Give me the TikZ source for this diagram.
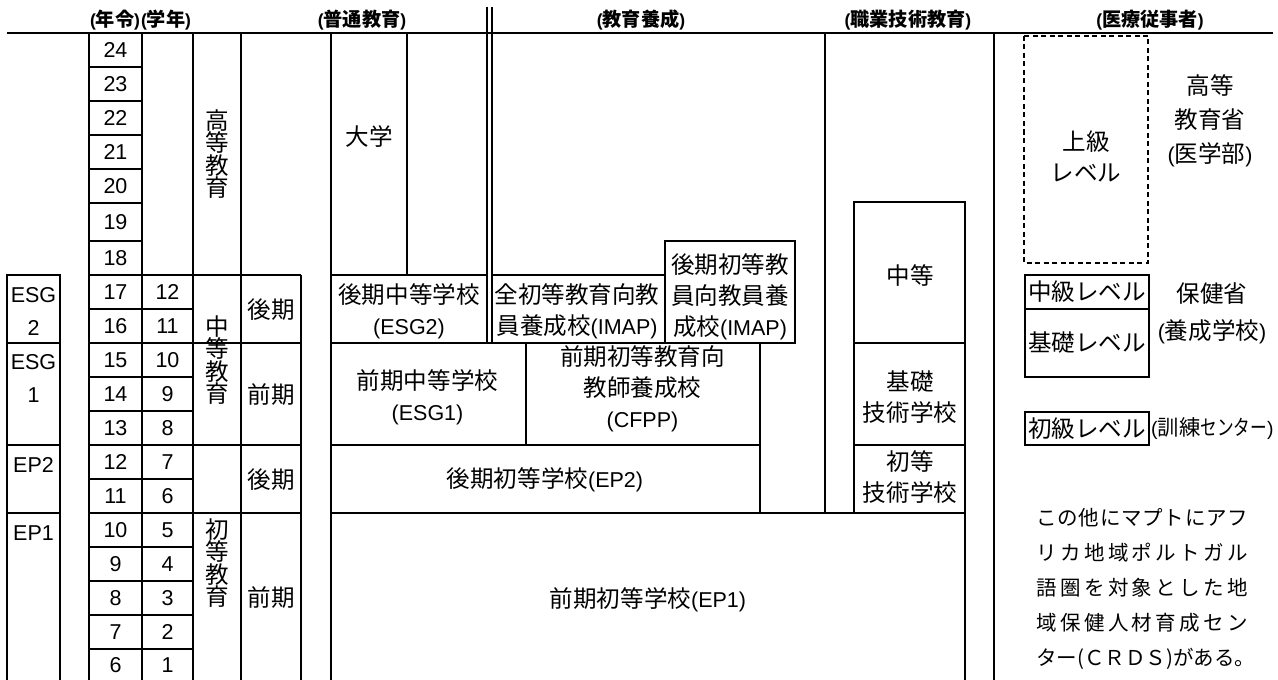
\documentclass[tikz,border=0pt]{standalone}
\usepackage{fontspec}
\setmainfont{Liberation Sans}
\newfontfamily\jp[Scale=1.095]{Noto Sans CJK JP}
\newfontfamily\jpn{Noto Sans CJK JP}
\newcommand\J[1]{{\jp #1}}
\def\sprA#1#2\relax{#1\ifx\relax#2\relax\else\hfill\sprA#2\relax\fi}
\newcommand\spr[1]{\makebox[212bp][s]{\sprA#1\relax}}
\tikzset{
  ln/.style={line width=1.8bp},
  dbl/.style={line width=2bp},
  txt/.style={inner sep=0pt, font=\fontsize{21.5bp}{31bp}\selectfont, align=center},
  vtxt/.style={inner sep=0pt, font=\fontsize{21.5bp}{22.5bp}\selectfont, align=center},
  hdr/.style={inner sep=0pt, font=\fontsize{17.5bp}{20bp}\selectfont\bfseries},
  dashbox/.style={line width=1.6bp, dash pattern=on 5bp off 3.5bp},
}
\begin{document}
\begin{tikzpicture}[x=1bp,y=-1bp]
\useasboundingbox (0,0) rectangle (1278,680);
% headers
\node[hdr] (hAge) at (115,20) {(\J{年令})};
\node[hdr] (hGrade) at (166,20) {(\J{学年})};
\node[hdr] (hGen) at (362,20) {(\J{普通教育})};
\node[hdr] (hTeach) at (641,20) {(\J{教育養成})};
\node[hdr] (hVoc) at (908,20) {(\J{職業技術教育})};
\node[hdr] (hMed) at (1150,20) {(\J{医療従事者})};
\draw[dbl] (7,33) -- (1273,33);
% left column
\draw[ln] (7,275) rectangle (60,343);
\draw[ln] (7,343) rectangle (60,445);
\draw[ln] (7,445) rectangle (60,513);
\draw[ln] (7,680) -- (7,513) -- (60,513) -- (60,680);
\node[txt] (lESGa) at (33.5,295) {ESG};
\node[txt] (lESGb) at (33.5,328) {2};
\node[txt] (lESGc) at (33.5,362) {ESG};
\node[txt] (lESGd) at (33.5,395) {1};
\node[txt] (lEP2) at (33.5,465) {EP2};
\node[txt] (lEP1) at (33.5,533) {EP1};
% age / grade grid
\foreach \x in {89,142,193,241} \draw[ln] (\x,33) -- (\x,680);
\draw[ln] (301,275) -- (301,680);
\foreach \y in {67,101,135,169,203,241} \draw[ln] (89,\y) -- (142,\y);
\foreach \y in {275,309,343,377,411,445,479,513,547,581,615,649} \draw[ln] (89,\y) -- (193,\y);
\foreach \y in {275,343,445,513} \draw[ln] (193,\y) -- (301,\y);
\foreach \a/\yt/\yb in {24/33/67,23/67/101,22/101/135,21/135/169,20/169/203,19/203/241,18/241/275}
  \node[txt] (age\a) at (115.5,{(\yt+\yb)/2}) {\a};
\foreach \a/\g/\yt/\yb in {17/12/275/309,16/11/309/343,15/10/343/377,14/9/377/411,13/8/411/445,12/7/445/479,11/6/479/513,10/5/513/547,9/4/547/581,8/3/581/615,7/2/615/649,6/1/649/682}{
  \node[txt] (age\a) at (115.5,{(\yt+\yb)/2}) {\a};
  \node[txt] (gr\g) at (167.5,{(\yt+\yb)/2}) {\g};
}
\node[vtxt] (vHigh) at (217,154) {\J{高}\\\J{等}\\\J{教}\\\J{育}};
\node[vtxt] (vSec) at (217,360) {\J{中}\\\J{等}\\\J{教}\\\J{育}};
\node[vtxt] (vPri) at (217,563) {\J{初}\\\J{等}\\\J{教}\\\J{育}};
\node[txt] (pSecL) at (271,310) {\J{後期}};
\node[txt] (pSecE) at (271,395) {\J{前期}};
\node[txt] (pPriL) at (271,480) {\J{後期}};
\node[txt] (pPriE) at (271,598) {\J{前期}};
% general education
\draw[ln] (331,33) -- (331,680);
\draw[ln] (407,33) -- (407,275);
\draw[dbl] (486.5,7) -- (486.5,343);
\draw[dbl] (491.5,7) -- (491.5,343);
\draw[ln] (331,275) -- (486.5,275);
\draw[ln] (491.5,275) -- (665,275);
\draw[ln] (665,241) rectangle (795,343);
\draw[ln] (331,343) -- (795,343);
\draw[ln] (526,343) -- (526,445);
\draw[ln] (760,343) -- (760,513);
\draw[ln] (331,445) -- (760,445);
\draw[ln] (331,513) -- (965,513);
\draw[ln] (965,513) -- (965,680);
\node[txt] (univ) at (369,137) {\J{大学}};
\node[txt] (esg2) at (409,311) {\J{後期中等学校}\\(ESG2)};
\node[txt] (imapA) at (577,311) {\J{全初等教育向教}\\\J{員養成校}(IMAP)};
\node[txt] (imapB) at (730,297) {\J{後期初等教}\\\J{員向教員養}\\\J{成校}(IMAP)};
\node[txt] (esg1) at (427.5,397.5) {\J{前期中等学校}\\(ESG1)};
\node[txt] (cfpp) at (642.5,389) {\J{前期初等教育向}\\\J{教師養成校}\\(CFPP)};
\node[txt] (ep2) at (545,480) {\J{後期初等学校}(EP2)};
\node[txt] (ep1) at (648,600) {\J{前期初等学校}(EP1)};
% vocational
\draw[ln] (825,33) -- (825,513);
\draw[ln] (994,33) -- (994,680);
\draw[ln] (854,202) rectangle (965,343);
\draw[ln] (854,343) rectangle (965,445);
\draw[ln] (854,445) rectangle (965,513);
\node[txt] (vSecT) at (910,275) {\J{中等}};
\node[txt] (vBasic) at (910,397) {\J{基礎}\\\J{技術学校}};
\node[txt] (vPriT) at (910,477) {\J{初等}\\\J{技術学校}};
% medical
\draw[dashbox] (1024,36) rectangle (1148,263);
\draw[ln] (1025,275) rectangle (1149,309);
\draw[ln] (1025,309) rectangle (1149,377);
\draw[ln] (1025,412) rectangle (1149,445);
\node[txt] (mAdv) at (1086,156) {\J{上級}\\\J{レベル}};
\node[txt, font=\fontsize{21.5bp}{34bp}\selectfont] (mHE) at (1210,121) {\J{高等}\\\J{教育省}\\(\J{医学部})};
\node[txt] (mMid) at (1087,292) {\J{中級レベル}};
\node[txt] (mBas) at (1087,343) {\J{基礎レベル}};
\node[txt, font=\fontsize{21.5bp}{37bp}\selectfont] (mMoH) at (1212,313) {\J{保健省}\\(\J{養成学校})};
\node[txt] (mEnt) at (1087,428.5) {\J{初級レベル}};
\node[inner sep=0pt, anchor=west, font=\fontsize{19.5bp}{22bp}\selectfont] (mTC) at (1151,428.5) {(\J{訓練}\scalebox{0.78}[1]{\J{センター}})};
\node[inner sep=0pt, anchor=west, align=left, font=\jpn\fontsize{20.5bp}{35bp}\selectfont] (note) at (1036,589)
 {\spr{この他にマプトにアフ}\\\spr{リカ地域ポルトガル}\\\spr{語圏を対象とした地}\\\spr{域保健人材育成セン}\\\spr{ター(ＣＲＤＳ)がある。}};
\end{tikzpicture}
\end{document}
